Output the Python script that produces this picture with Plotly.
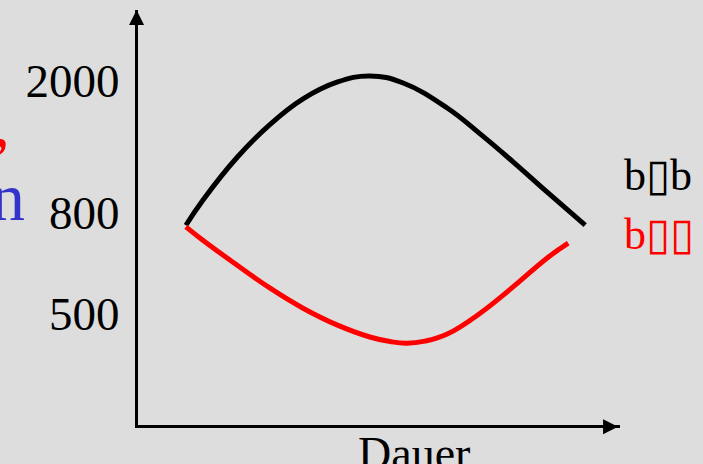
import plotly.graph_objects as go

# schematic values (arbitrary units, 0-100)
dauer_black = [10.3, 13.8, 20.9, 27.7, 34.5, 41.5, 48.3, 55.2, 64.3, 71.1, 77.9, 84.9, 92.8]
wert_black = [48.4, 54.4, 64.7, 72.6, 78.7, 82.7, 84.2, 82.5, 76.5, 70.3, 63.6, 56.4, 48.4]
dauer_red = [10.3, 13.8, 20.9, 27.7, 34.5, 41.5, 48.3, 52.5, 55.9, 59.7, 64.3, 71.1, 77.9, 84.9, 89.3]
wert_red = [48.0, 44.8, 38.8, 33.3, 28.5, 24.5, 21.6, 20.5, 20.1, 20.6, 22.3, 27.3, 33.6, 40.5, 44.1]

tick_pos = [27.2, 51.4, 83.2]
tick_labels = ["500", "800", "2000"]

label_black = "b\u25afb"
label_red = "b\u25af\u25af"
x_title = "Dauer"

SERIF = "Liberation Serif, Times New Roman, serif"

fig = go.Figure()
fig.add_trace(go.Scatter(x=dauer_black, y=wert_black, mode="lines",
                         line=dict(color="black", width=5, shape="spline", smoothing=1.2),
                         showlegend=False, hoverinfo="skip"))
fig.add_trace(go.Scatter(x=dauer_red, y=wert_red, mode="lines",
                         line=dict(color="#ff0000", width=5, shape="spline", smoothing=1.2),
                         showlegend=False, hoverinfo="skip"))

fig.update_layout(
    width=703, height=464,
    margin=dict(l=138, r=83, t=10, b=39),
    paper_bgcolor="#dddddd", plot_bgcolor="#dddddd",
    font=dict(family=SERIF, color="black"),
    xaxis=dict(range=[0.4, 100], showgrid=False, zeroline=False, showline=True,
               linecolor="black", linewidth=3, showticklabels=False, ticks=""),
    yaxis=dict(range=[0.5, 100], showgrid=False, zeroline=False, showline=True,
               linecolor="black", linewidth=3, ticks="",
               tickvals=tick_pos, ticktext=tick_labels,
               tickfont=dict(family=SERIF, size=47, color="black"),
               ticklabelstandoff=6),
)

# arrowheads at the axis ends
fig.add_shape(type="path", xref="paper", yref="paper", xsizemode="pixel", ysizemode="pixel",
              xanchor=-0.003, yanchor=1, path="M -7.5 -15 L 7.5 -15 L 0 0 Z",
              fillcolor="black", line=dict(width=0))
fig.add_shape(type="path", xref="paper", yref="paper", xsizemode="pixel", ysizemode="pixel",
              xanchor=0.996, yanchor=-0.004, path="M -15 -7.5 L -15 7.5 L 0 0 Z",
              fillcolor="black", line=dict(width=0))

fig.add_annotation(text=label_black, xref="paper", yref="paper", x=1.004, y=0.602,
                   xanchor="left", yanchor="middle", showarrow=False,
                   font=dict(family=SERIF, size=44, color="black"))
fig.add_annotation(text=label_red, xref="paper", yref="paper", x=1.004, y=0.458,
                   xanchor="left", yanchor="middle", showarrow=False,
                   font=dict(family=SERIF, size=44, color="#ff0000"))
fig.add_annotation(text=x_title, xref="paper", yref="paper", x=0.5716, y=-0.0025,
                   xanchor="center", yanchor="top", showarrow=False,
                   font=dict(family=SERIF, size=46, color="black"))
# partially visible text at the left edge
fig.add_annotation(text="n", xref="paper", yref="paper", x=-0.2300, y=0.549,
                   xanchor="right", yanchor="middle", showarrow=False,
                   font=dict(family=SERIF, size=68, color="#3333cc"))
fig.add_annotation(text=",", xref="paper", yref="paper", x=-0.2614, y=0.728,
                   xanchor="right", yanchor="middle", showarrow=False,
                   font=dict(family=SERIF, size=68, color="#ff0000"))

fig.write_html("out.html", config={"displayModeBar": False},
               post_script="document.body.style.margin='0';document.body.style.overflow='hidden';")
